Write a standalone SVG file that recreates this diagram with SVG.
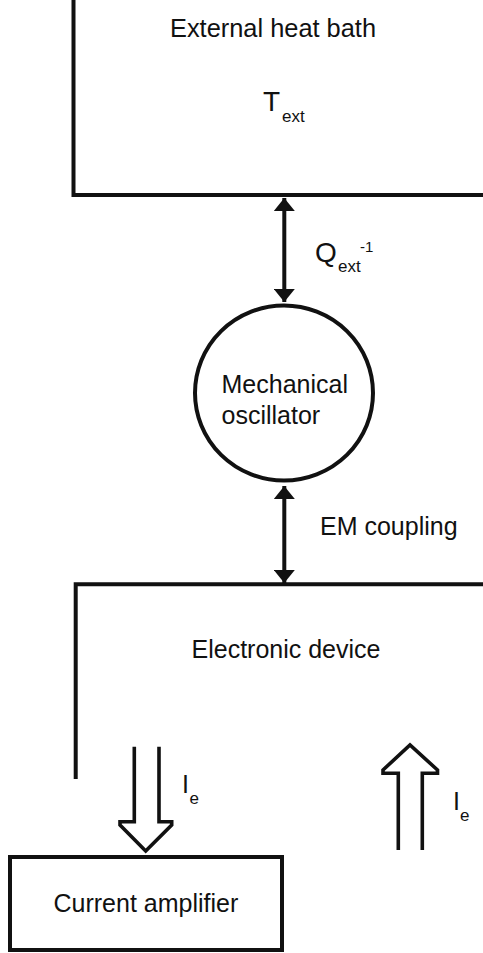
<svg xmlns="http://www.w3.org/2000/svg" width="483" height="953" viewBox="0 0 483 953">
<style>
.ln{fill:none;stroke:#111;stroke-width:4;stroke-linecap:butt}
.ho{fill:none;stroke:#111;stroke-width:3.6;stroke-linejoin:miter}
.t{font-family:"Liberation Sans",Arial,sans-serif;fill:#111;font-size:25px}
.big{font-size:28px}
.sub{font-size:17px}
.sup{font-size:15px}
</style>
<defs>
<marker id="ah" viewBox="0 0 13 21" refX="13" refY="10.5" markerWidth="13" markerHeight="21" markerUnits="userSpaceOnUse" orient="auto-start-reverse">
<path d="M0,0 L13,10.5 L0,21 z" fill="#111"/>
</marker>
</defs>
<rect width="483" height="953" fill="#fff"/>
<g id="heat-bath">
<path class="ln" d="M73.5,0 V195 H483"/>
<text class="t" x="170" y="37" textLength="206" lengthAdjust="spacingAndGlyphs">External heat bath</text>
<text class="t big" x="263" y="110.5">T<tspan class="sub" x="282" y="121.5">ext</tspan></text>
</g>
<g id="oscillator">
<ellipse class="ln" cx="284" cy="393" rx="89" ry="87.5"/>
<text class="t" x="221.5" y="393">Mechanical</text>
<text class="t" x="221.5" y="423.5">oscillator</text>
</g>
<g id="electronic-device">
<path class="ln" d="M75.7,779 V584.3 H483"/>
<text class="t" x="191.5" y="658">Electronic device</text>
</g>
<g id="current-amplifier">
<rect class="ln" x="10" y="857" width="272" height="93"/>
<text class="t" x="53.5" y="911.5">Current amplifier</text>
</g>
<g id="connectors">
<line class="ln" x1="284.3" y1="198" x2="284.3" y2="302" marker-start="url(#ah)" marker-end="url(#ah)"/>
<line class="ln" x1="284.3" y1="486" x2="284.3" y2="583" marker-start="url(#ah)" marker-end="url(#ah)"/>
<path class="ho" d="M134.3,746.7 V821.7 H120 V825 L145.7,851 L171.7,825 V821.7 H159 V746.7"/>
<path class="ho" d="M398.3,850 V773.3 H383 V770 L410,745 L437.5,770 V773.3 H422.3 V850"/>
</g>
<g id="labels">
<text class="t big" x="315" y="261.5">Q<tspan class="sub" x="338" y="271.5">ext</tspan><tspan class="sup" x="360" y="251.5">-1</tspan></text>
<text class="t" x="320" y="535">EM coupling</text>
<text class="t" x="182" y="793">I<tspan class="sub" x="189.5" y="803.5">e</tspan></text>
<text class="t" x="453" y="810">I<tspan class="sub" x="460" y="820.5">e</tspan></text>
</g>
</svg>
